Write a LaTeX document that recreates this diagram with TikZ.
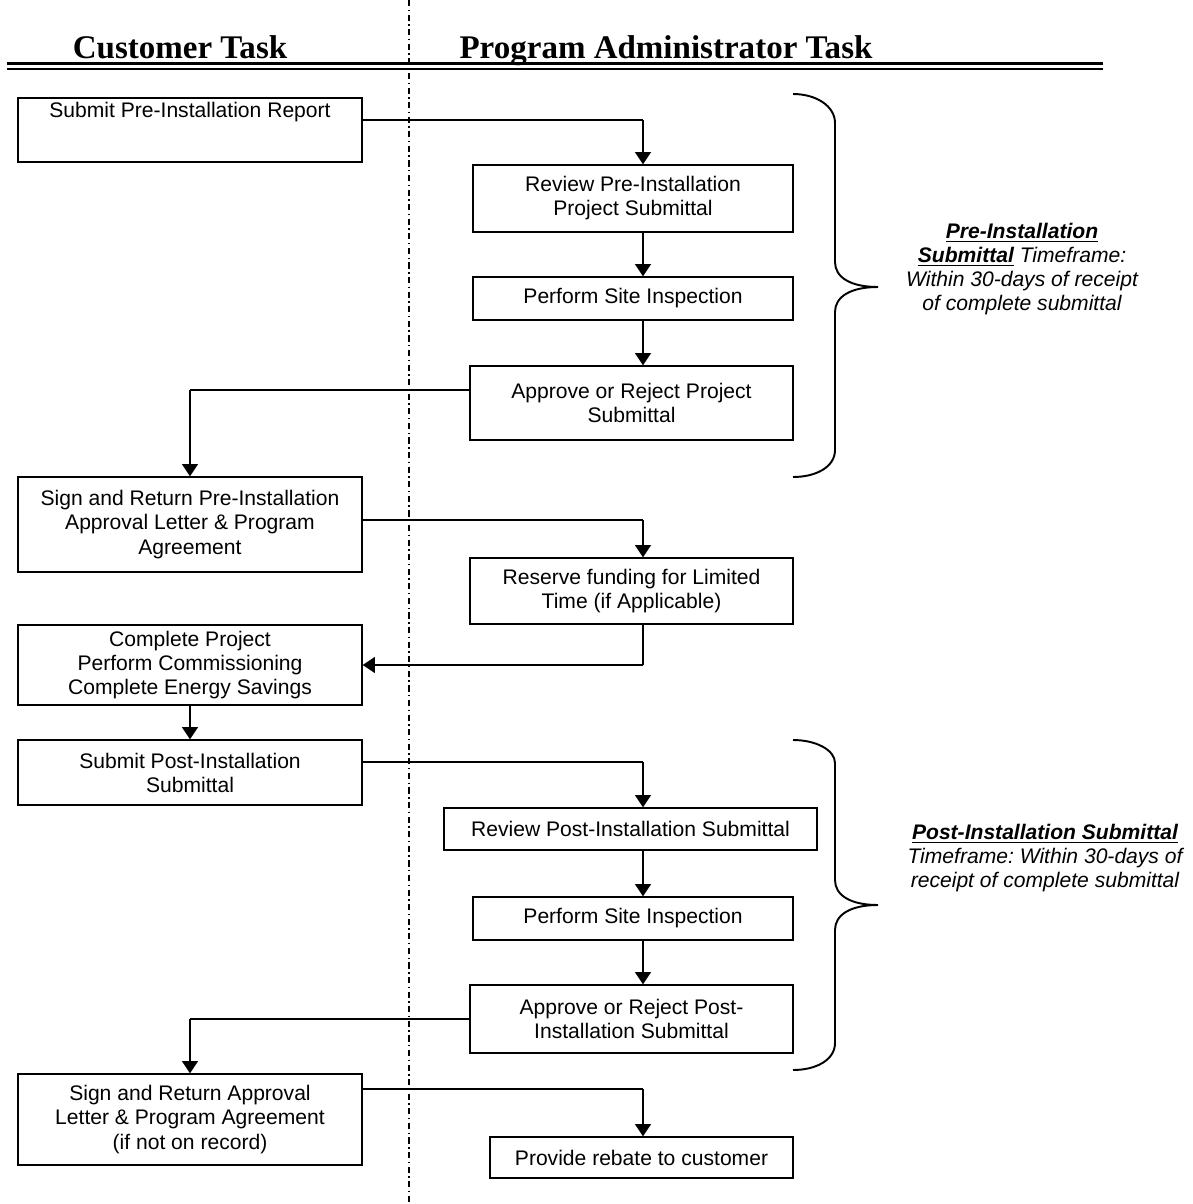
\documentclass[tikz,border=0pt]{standalone}
\usepackage{fontspec}
\setmainfont{Liberation Sans}
\newfontfamily\headfont{Liberation Serif}
\usetikzlibrary{
    arrows.meta,    % Modern arrow tips
    calc            % Coordinate calculations
}
\tikzset{
    taskbox/.style={draw, rectangle, line width=0.75pt, align=center, inner sep=2pt,
        font=\fontsize{12}{13.7}\selectfont},
    flowline/.style={line width=0.7pt},
    flowarrow/.style={line width=1.1pt, -{Triangle[width=9pt,length=7pt]}},
    bracket/.style={line width=1.1pt},
    lanehead/.style={anchor=base, font=\headfont\bfseries\fontsize{18.8}{22}\selectfont},
    timenote/.style={align=center, font=\frenchspacing\itshape\fontsize{12}{13.7}\selectfont}
}

\begin{document}
\begin{tikzpicture}[x=0.02cm,y=-0.02cm]
    \useasboundingbox (0,0) rectangle (1193,1204);
    % lanes
    \draw[line width=0.75pt, dash pattern=on 3.5pt off 2pt on 0.8pt off 2pt] (409,0) -- (409,1204);
    \node[lanehead] (hcust) at (180,58) {Customer Task};
    \node[lanehead] (hadmin) at (666,58) {Program Administrator Task};
    \draw[line width=1.4pt] (7,63.5) -- (1103,63.5) (7,69) -- (1103,69);

    % tasks
    \node[taskbox, minimum width=6.88cm, minimum height=1.28cm] (subpre) at (190,130) {Submit Pre-Installation Report\\[9pt] ~};
    \node[taskbox, minimum width=6.4cm, minimum height=1.34cm] (revpre) at (633,198.5) {Review Pre-Installation\\Project Submittal};
    \node[taskbox, minimum width=6.4cm, minimum height=0.86cm] (insppre) at (633,298.5) {Perform Site Inspection};
    \node[taskbox, minimum width=6.46cm, minimum height=1.48cm] (apppre) at (631.5,403) {Approve or Reject Project\\Submittal};
    \node[taskbox, minimum width=6.88cm, minimum height=1.9cm] (signpre) at (190,524.5) {Sign and Return Pre-Installation\\Approval Letter \& Program\\Agreement};
    \node[taskbox, minimum width=6.46cm, minimum height=1.32cm] (reserve) at (631.5,591) {Reserve funding for Limited\\Time (if Applicable)};
    \node[taskbox, minimum width=6.88cm, minimum height=1.6cm] (complete) at (190,665) {Complete Project\\Perform Commissioning\\Complete Energy Savings};
    \node[taskbox, minimum width=6.88cm, minimum height=1.3cm] (subpost) at (190,772.5) {Submit Post-Installation\\Submittal};
    \node[taskbox, minimum width=7.46cm, minimum height=0.84cm] (revpost) at (630.5,829) {Review Post-Installation Submittal};
    \node[taskbox, minimum width=6.4cm, minimum height=0.86cm] (insppost) at (633,918.5) {Perform Site Inspection};
    \node[taskbox, minimum width=6.46cm, minimum height=1.36cm] (apppost) at (631.5,1019) {Approve or Reject Post-\\Installation Submittal};
    \node[taskbox, minimum width=6.88cm, minimum height=1.82cm] (signpost) at (190,1119.5) {Sign and Return Approval\\Letter \& Program Agreement\\(if not on record)};
    \node[taskbox, minimum width=6.06cm, minimum height=0.82cm] (rebate) at (641.5,1157.5) {Provide rebate to customer};

    % flow
    \coordinate (acol) at (643,0);
    \coordinate (b1) at (643,120);
    \draw[flowline] (subpre.east |- b1) -- (b1);
    \draw[flowarrow] (b1) -- (revpre.north -| b1);
    \draw[flowarrow] (revpre.south -| acol) -- (insppre.north -| acol);
    \draw[flowarrow] (insppre.south -| acol) -- (apppre.north -| acol);
    \coordinate (b2) at (190,390);
    \draw[flowline] (apppre.west |- b2) -- (b2);
    \draw[flowarrow] (b2) -- (signpre.north -| b2);
    \coordinate (b3) at (643,520);
    \draw[flowline] (signpre.east |- b3) -- (b3);
    \draw[flowarrow] (b3) -- (reserve.north -| b3);
    \coordinate (b4) at (643,665);
    \draw[flowline] (reserve.south -| b4) -- (b4);
    \draw[flowarrow] (b4) -- (complete.east);
    \draw[flowarrow] (complete.south) -- (subpost.north);
    \coordinate (b5) at (643,762);
    \draw[flowline] (subpost.east |- b5) -- (b5);
    \draw[flowarrow] (b5) -- (revpost.north -| b5);
    \draw[flowarrow] (revpost.south -| acol) -- (insppost.north -| acol);
    \draw[flowarrow] (insppost.south -| acol) -- (apppost.north -| acol);
    \coordinate (b6) at (190,1019);
    \draw[flowline] (apppost.west |- b6) -- (b6);
    \draw[flowarrow] (b6) -- (signpost.north -| b6);
    \coordinate (b7) at (643,1089);
    \draw[flowline] (signpost.east |- b7) -- (b7);
    \draw[flowarrow] (b7) -- (rebate.north -| b7);

    % timeframe braces
    \draw[bracket] (793,94) .. controls (816,94) and (835,106) .. (835,123) -- (835,262)
        .. controls (835,277) and (850,287) .. (878,287) .. controls (850,287) and (835,297) .. (835,312)
        -- (835,450) .. controls (835,467) and (816,477) .. (793,477);
    \node[timenote] (notepre) at (1022,269) {\textbf{\underline{Pre-Installation}}\\\textbf{\underline{Submittal}} Timeframe:\\Within 30-days of receipt\\of complete submittal};
    \draw[bracket] (793,740) .. controls (816,740) and (835,750) .. (835,763) -- (835,880)
        .. controls (835,895) and (850,905) .. (878,905) .. controls (850,905) and (835,915) .. (835,930)
        -- (835,1043) .. controls (835,1060) and (816,1070) .. (793,1070);
    \node[timenote] (notepost) at (1045,858) {\textbf{\underline{Post-Installation Submittal}}\\Timeframe: Within 30-days of\\receipt of complete submittal};
\end{tikzpicture}
\end{document}
